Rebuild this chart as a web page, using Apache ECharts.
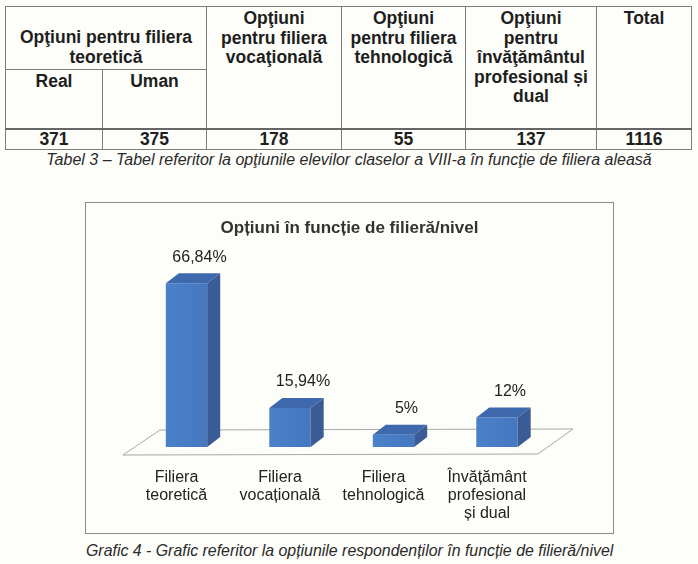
<!DOCTYPE html>
<html>
<head>
<meta charset="utf-8">
<script src="https://cdn.jsdelivr.net/npm/echarts@6/dist/echarts.min.js"></script>
<style>
    html, body { margin: 0; padding: 0; background: #fdfdf9; }
    body { width: 698px; height: 564px; position: relative; overflow: hidden;
        font-family: "Liberation Sans", Arial, sans-serif; color: #1e1e1e; }
    #tabel { position: absolute; left: 5px; top: 6px; width: 686px; border-collapse: collapse;
        table-layout: fixed; }
    #tabel td { border: 1px solid #7d7d7d; padding: 0 2px; text-align: center; vertical-align: top;
        font-weight: bold; font-size: 17.5px; line-height: 19.5px; white-space: pre-line; }
    #tabel tr.date td { vertical-align: middle; border-top: 2px solid #666; }
    .caption { position: absolute; font-style: italic; color: #2a2a2a; white-space: nowrap; }
    #grafic { position: absolute; left: 85px; top: 202px; width: 527px; height: 330px;
        border: 1px solid #8c8c8c; }
</style>
</head>
<body>
<table id="tabel"></table>
<div class="caption" id="cap1" style="left:0; width:698px; text-align:center; top:151px; font-size:16px;"></div>
<div id="grafic"></div>
<div class="caption" id="cap2" style="left:86px; top:542px; font-size:15.9px;"></div>
<script>
// tabelul 3
let headers = [
    'Opţiuni pentru filiera\nteoretică',
    'Opţiuni\npentru filiera\nvocaţională',
    'Opţiuni\npentru filiera\ntehnologică',
    'Opţiuni\npentru\nînvăţământul\nprofesional și\ndual',
    'Total',
];
let subHeaders = ['Real', 'Uman'];
let counts = [371, 375, 178, 55, 137, 1116];
let colWidths = [97, 104, 135, 124, 131, 95];

// grafic 4
let categories = ['Filiera\nteoretică', 'Filiera\nvocațională', 'Filiera\ntehnologică', 'Învățământ\nprofesional\nși dual'];
let shares = [66.84, 15.94, 5, 12];

let tableCaption = 'Tabel 3 – Tabel referitor la opţiunile elevilor claselor a VIII-a în funcţie de filiera aleasă';
let chartCaption = 'Grafic 4 - Grafic referitor la opțiunile respondenților în funcție de filieră/nivel';
let chartTitle = 'Opțiuni în funcție de filieră/nivel';

function buildTable() {
    let t = document.getElementById('tabel');
    let html = '<colgroup>' + colWidths.map(function (w) { return '<col style="width:' + w + 'px">'; }).join('') + '</colgroup>';
    html += '<tr style="height:63px"><td colspan="2" style="padding-top:21px">' + headers[0] + '</td>';
    for (let i = 1; i < headers.length; i++) {
        html += '<td rowspan="2" style="padding-top:2px">' + headers[i] + '</td>';
    }
    html += '</tr><tr style="height:59px">';
    subHeaders.forEach(function (h) { html += '<td style="padding-top:2px">' + h + '</td>'; });
    html += '</tr><tr class="date" style="height:21px">';
    counts.forEach(function (c) { html += '<td>' + c + '</td>'; });
    html += '</tr>';
    t.innerHTML = html;
    document.getElementById('cap1').textContent = tableCaption;
    document.getElementById('cap2').textContent = chartCaption;
}

const DX = 13, DY = -10;

function renderFloor(params, api) {
    let left = api.coord([0, 0]);
    let right = api.coord([categories.length - 1, 0]);
    let b = api.size([1, 0])[0];
    let yf = left[1] + 8, yb = left[1] - 17;
    return {
        type: 'polygon',
        shape: {
            points: [
                [left[0] - 0.614 * b, yf],
                [left[0] - 0.256 * b, yb],
                [right[0] + 0.734 * b, yb - 1],
                [right[0] + 0.396 * b, yf - 1],
            ],
        },
        style: { fill: '#fdfdf9', stroke: '#a8a8a8', lineWidth: 1 },
    };
}

function renderBar(params, api) {
    let idx = api.value(0);
    let base = api.coord([idx, 0]);
    let top = api.coord([idx, api.value(1)]);
    let w = api.size([1, 0])[0] * 0.4;
    let x0 = base[0] - w / 2, x1 = base[0] + w / 2;
    let yb = base[1], yt = top[1];
    let label = String(api.value(1)).replace('.', ',') + '%';
    return {
        type: 'group',
        children: [
            {
                type: 'rect',
                shape: { x: x0, y: yt, width: w, height: yb - yt },
                style: {
                    fill: new echarts.graphic.LinearGradient(0, 0, 1, 0, [
                        { offset: 0, color: '#4b81ca' },
                        { offset: 1, color: '#4677bf' },
                    ]),
                },
            },
            {
                type: 'polygon',
                shape: { points: [[x0, yt], [x1, yt], [x1 + DX, yt + DY], [x0 + DX, yt + DY]] },
                style: { fill: '#3f69ad' },
            },
            {
                type: 'polygon',
                shape: { points: [[x1, yt], [x1 + DX, yt + DY], [x1 + DX, yb + DY], [x1, yb]] },
                style: { fill: '#3a5b96' },
            },
            {
                type: 'text',
                style: {
                    text: label,
                    x: base[0] + DX,
                    y: yt + DY - 16,
                    align: 'center',
                    verticalAlign: 'middle',
                    fontSize: 16,
                    fontFamily: 'Liberation Sans',
                    fill: '#222',
                },
            },
        ],
    };
}

function initChart() {
    let chart = echarts.init(document.getElementById('grafic'));
    let option = {
        animation: false,
        title: {
            text: chartTitle,
            left: 'center',
            top: 12,
            textStyle: { fontSize: 17, fontWeight: 'bold', color: '#333', fontFamily: 'Liberation Sans' },
        },
        grid: { left: 48.75, right: 64.25, top: 72.5, bottom: 86 },
        xAxis: {
            type: 'category',
            data: categories,
            axisLine: { show: false },
            axisTick: { show: false },
            splitLine: { show: false },
            axisLabel: {
                interval: 0,
                margin: 22,
                padding: [0, 20, 0, 0],
                fontSize: 16,
                lineHeight: 18,
                color: '#222',
                fontFamily: 'Liberation Sans',
            },
        },
        yAxis: { type: 'value', min: 0, max: 70, show: false },
        series: [
            {
                type: 'custom',
                renderItem: renderFloor,
                data: [[0, 0]],
                z: 1,
                silent: true,
            },
            {
                type: 'custom',
                renderItem: renderBar,
                data: shares.map(function (v, i) { return [i, v]; }),
                z: 2,
            },
        ],
    };
    chart.setOption(option);
}

buildTable();
initChart();
</script>
</body>
</html>
